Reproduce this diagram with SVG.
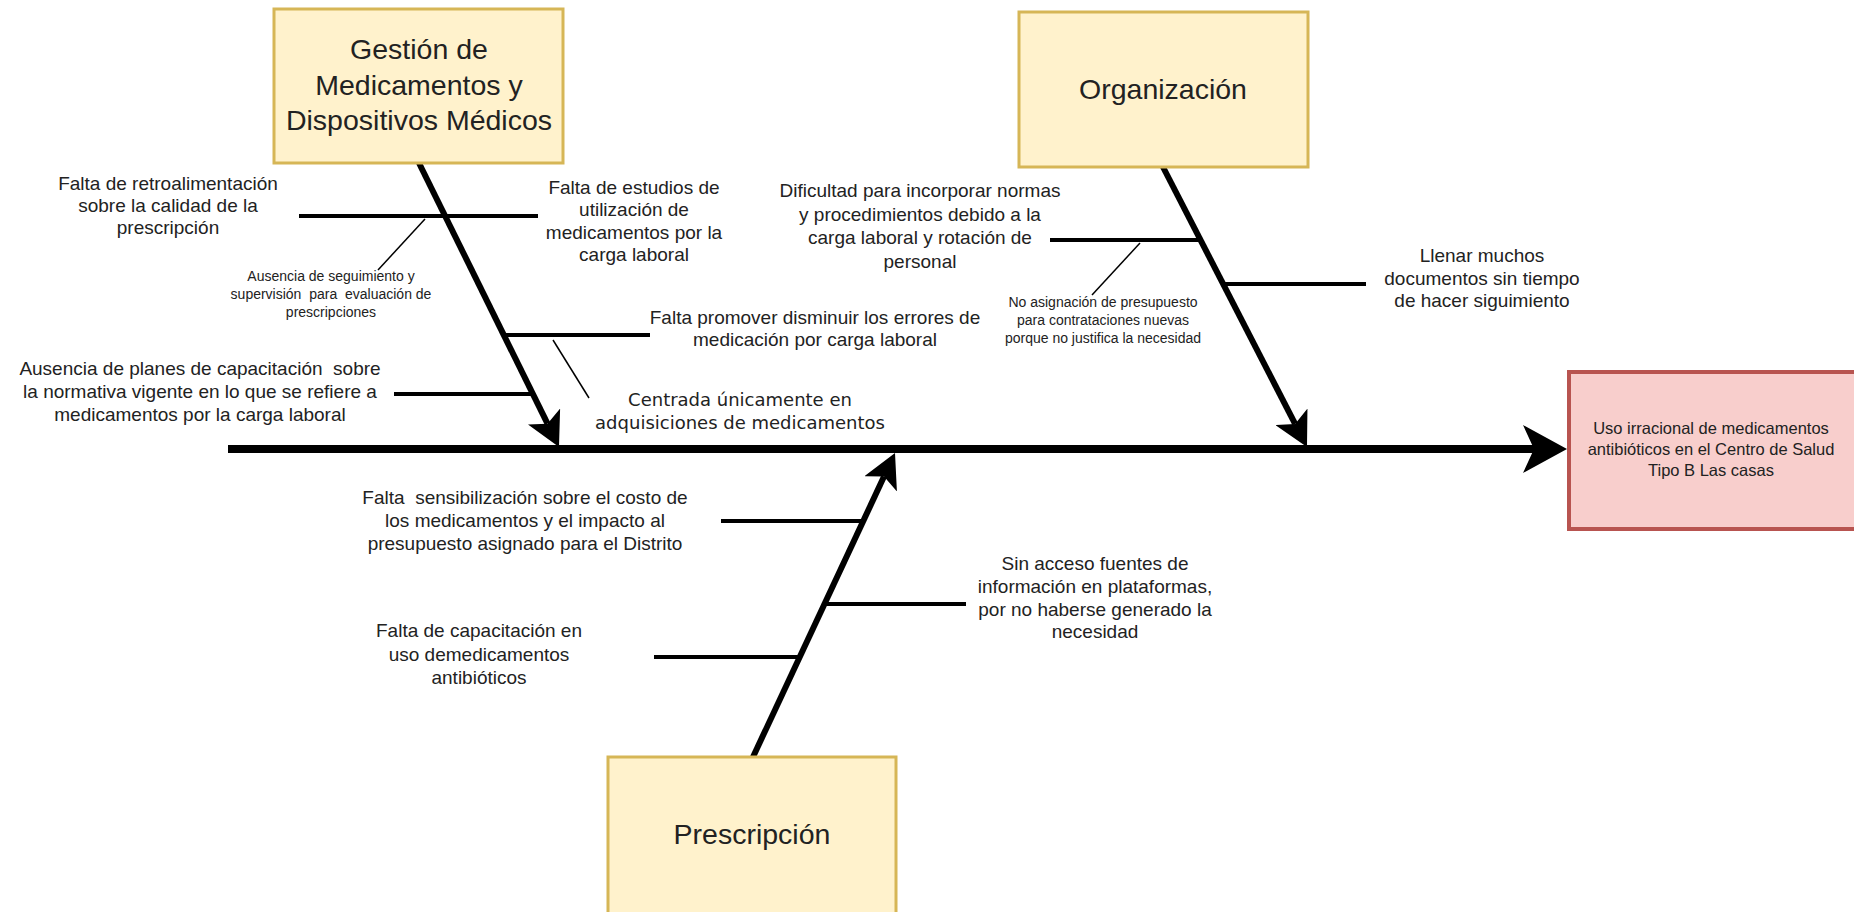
<svg xmlns="http://www.w3.org/2000/svg" width="1854" height="912" viewBox="0 0 1854 912">
<style>
.cat{fill:#fff2cc;stroke:#d6b656;stroke-width:3}
.eff{fill:#f8cecc;stroke:#b85450;stroke-width:4}
.t{font-family:"Liberation Sans",Arial,sans-serif;fill:#222;text-anchor:middle}
.big{font-size:28.5px}
.mid{font-size:19px}
.sm{font-size:14px}
.ef{font-size:16.5px}
.dj{font-family:"DejaVu Sans",Verdana,sans-serif;font-size:18px;fill:#222;text-anchor:middle}
.bone{stroke:#000;stroke-width:6;fill:none}
.spine{stroke:#000;stroke-width:8;fill:none}
.sub{stroke:#000;stroke-width:4;fill:none}
.thin{stroke:#000;stroke-width:1.5;fill:none}
</style>
<defs>
<marker id="ah" markerUnits="userSpaceOnUse" markerWidth="34" markerHeight="36" refX="8" refY="18" orient="auto" viewBox="0 0 34 36">
<path d="M0 0 L34 18 L0 36 L8 18 Z" fill="#000"/>
</marker>
<marker id="ahBig" markerUnits="userSpaceOnUse" markerWidth="44" markerHeight="48" refX="11" refY="24" orient="auto" viewBox="0 0 44 48">
<path d="M0 0 L44 24 L0 48 L11 24 Z" fill="#000"/>
</marker>
</defs>
<g id="connectors">
<line class="spine" x1="228" y1="449" x2="1534" y2="449" marker-end="url(#ahBig)"/>
<line class="bone" x1="419" y1="163" x2="547.5" y2="423.7" marker-end="url(#ah)"/>
<line class="bone" x1="1163" y1="167" x2="1295.1" y2="423.9" marker-end="url(#ah)"/>
<line class="bone" x1="753" y1="757" x2="884" y2="476.6" marker-end="url(#ah)"/>
<line class="sub" x1="299" y1="216" x2="538" y2="216"/>
<line class="sub" x1="504" y1="335" x2="650" y2="335"/>
<line class="sub" x1="394" y1="394" x2="533" y2="394"/>
<line class="sub" x1="1050" y1="240" x2="1200" y2="240"/>
<line class="sub" x1="1223" y1="284" x2="1366" y2="284"/>
<line class="sub" x1="721" y1="521" x2="863" y2="521"/>
<line class="sub" x1="825" y1="604" x2="966" y2="604"/>
<line class="sub" x1="654" y1="657" x2="800" y2="657"/>
<line class="thin" x1="425" y1="219" x2="378" y2="270"/>
<line class="thin" x1="553" y1="340" x2="589" y2="398"/>
<line class="thin" x1="1140" y1="243" x2="1092" y2="295"/>
</g>
<g id="gestion">
<rect class="cat" x="274" y="9" width="289" height="154"/>
<text class="t big" x="419" y="59">Gestión de</text>
<text class="t big" x="419" y="95">Medicamentos y</text>
<text class="t big" x="419" y="130">Dispositivos Médicos</text>
</g>
<g id="organizacion">
<rect class="cat" x="1019" y="12" width="289" height="155"/>
<text class="t big" x="1163" y="99">Organización</text>
</g>
<g id="prescripcion">
<rect class="cat" x="608" y="757" width="288" height="160"/>
<text class="t big" x="752" y="844">Prescripción</text>
</g>
<g id="efecto">
<rect class="eff" x="1569" y="372" width="290" height="157"/>
<text class="t ef" x="1711" y="434">Uso irracional de medicamentos</text>
<text class="t ef" x="1711" y="455">antibióticos en el Centro de Salud</text>
<text class="t ef" x="1711" y="476">Tipo B Las casas</text>
</g>
<g id="causa-retroalimentacion">
<text class="t mid" x="168" y="190">Falta de retroalimentación</text>
<text class="t mid" x="168" y="212">sobre la calidad de la</text>
<text class="t mid" x="168" y="234">prescripción</text>
</g>
<g id="causa-estudios">
<text class="t mid" x="634" y="194">Falta de estudios de</text>
<text class="t mid" x="634" y="216">utilización de</text>
<text class="t mid" x="634" y="239">medicamentos por la</text>
<text class="t mid" x="634" y="261">carga laboral</text>
</g>
<g id="causa-seguimiento">
<text class="t sm" x="331" y="281">Ausencia de seguimiento y</text>
<text class="t sm" x="331" y="299" xml:space="preserve">supervisión  para  evaluación de</text>
<text class="t sm" x="331" y="317">prescripciones</text>
</g>
<g id="causa-errores">
<text class="t mid" x="815" y="324">Falta promover disminuir los errores de</text>
<text class="t mid" x="815" y="346">medicación por carga laboral</text>
</g>
<g id="causa-adquisiciones">
<text class="dj" x="740" y="406">Centrada únicamente en</text>
<text class="dj" x="740" y="429">adquisiciones de medicamentos</text>
</g>
<g id="causa-capacitacion-normativa">
<text class="t mid" x="200" y="375" xml:space="preserve">Ausencia de planes de capacitación  sobre</text>
<text class="t mid" x="200" y="398">la normativa vigente en lo que se refiere a</text>
<text class="t mid" x="200" y="421">medicamentos por la carga laboral</text>
</g>
<g id="causa-normas">
<text class="t mid" x="920" y="197">Dificultad para incorporar normas</text>
<text class="t mid" x="920" y="221">y procedimientos debido a la</text>
<text class="t mid" x="920" y="244">carga laboral y rotación de</text>
<text class="t mid" x="920" y="268">personal</text>
</g>
<g id="causa-presupuesto">
<text class="t sm" x="1103" y="307">No asignación de presupuesto</text>
<text class="t sm" x="1103" y="325">para contrataciones nuevas</text>
<text class="t sm" x="1103" y="343">porque no justifica la necesidad</text>
</g>
<g id="causa-documentos">
<text class="t mid" x="1482" y="262">Llenar muchos</text>
<text class="t mid" x="1482" y="285">documentos sin tiempo</text>
<text class="t mid" x="1482" y="307">de hacer siguimiento</text>
</g>
<g id="causa-sensibilizacion">
<text class="t mid" x="525" y="504" xml:space="preserve">Falta  sensibilización sobre el costo de</text>
<text class="t mid" x="525" y="527">los medicamentos y el impacto al</text>
<text class="t mid" x="525" y="550">presupuesto asignado para el Distrito</text>
</g>
<g id="causa-fuentes">
<text class="t mid" x="1095" y="570">Sin acceso fuentes de</text>
<text class="t mid" x="1095" y="593">información en plataformas,</text>
<text class="t mid" x="1095" y="616">por no haberse generado la</text>
<text class="t mid" x="1095" y="638">necesidad</text>
</g>
<g id="causa-capacitacion-uso">
<text class="t mid" x="479" y="637">Falta de capacitación en</text>
<text class="t mid" x="479" y="661">uso demedicamentos</text>
<text class="t mid" x="479" y="684">antibióticos</text>
</g>
</svg>
